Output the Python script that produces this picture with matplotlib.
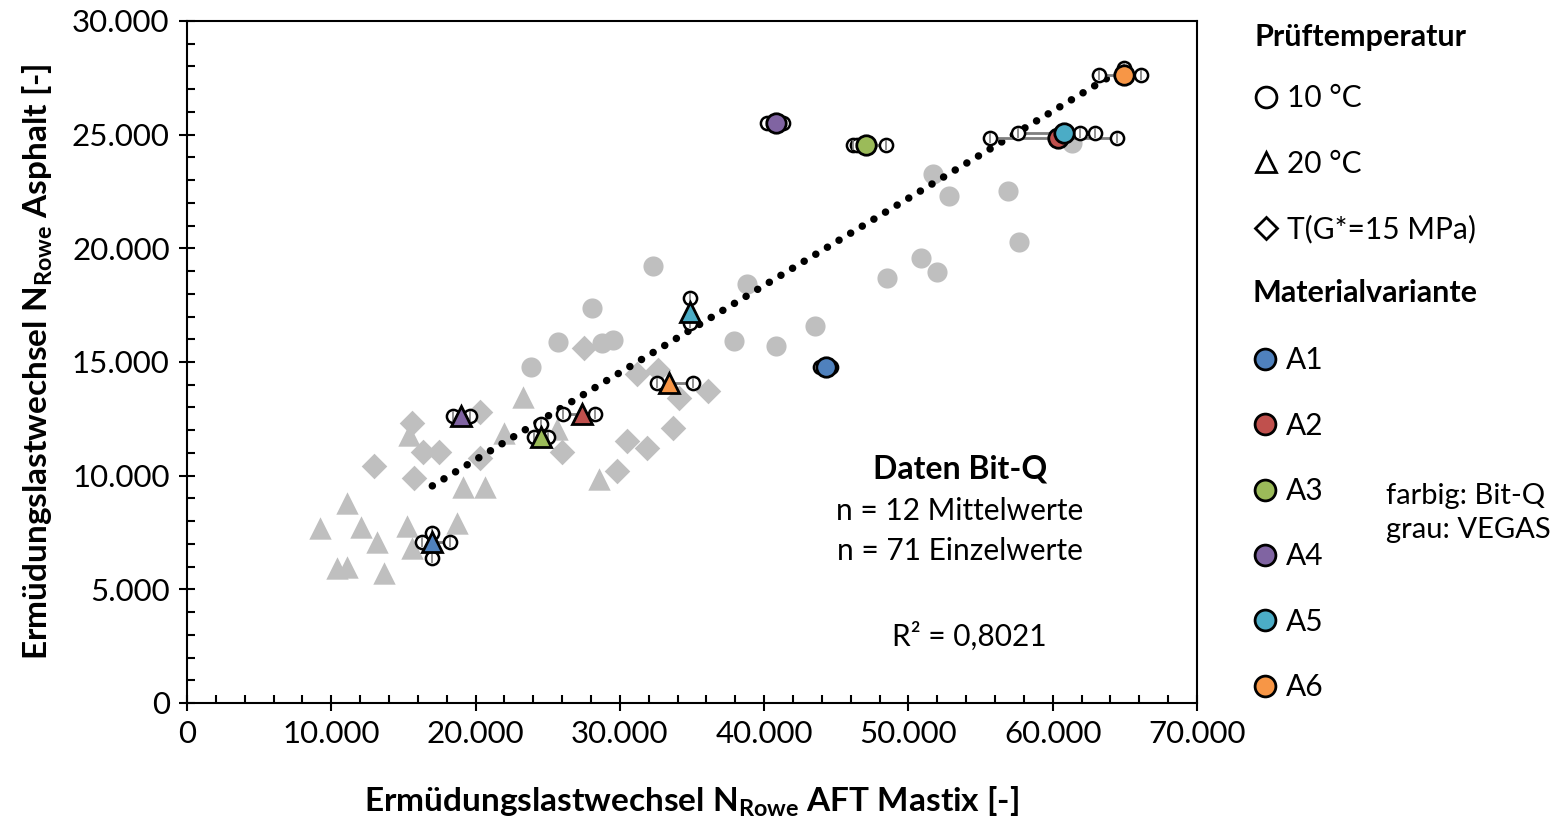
import matplotlib
matplotlib.use('Agg')
import matplotlib.pyplot as plt
from matplotlib.lines import Line2D
from matplotlib.ticker import MultipleLocator, FuncFormatter

plt.rcParams['font.family'] = ['Lato', 'DejaVu Sans']
plt.rcParams['mathtext.fontset'] = 'custom'
plt.rcParams['mathtext.rm'] = 'Lato:bold'
plt.rcParams['mathtext.it'] = 'Lato:bold'

# VEGAS data (grey)
vegas_10_x = [23842, 25714, 28070, 28763, 29525, 32298, 37912, 38813, 40823, 43526,
              48517, 50873, 51982, 51705, 52814, 56903, 57666, 61339]
vegas_10_y = [14781, 15880, 17376, 15836, 15968, 19224, 15924, 18432, 15704, 16584,
              18696, 19576, 18960, 23271, 22303, 22523, 20279, 24634]
vegas_20_x = [9218, 11090, 12060, 13169, 15248, 15595, 18714, 10397, 11090, 13654,
              15387, 19130, 20655, 21972, 23288, 25645, 28556]
vegas_20_y = [7698, 8798, 7742, 7082, 7786, 6818, 7918, 5939, 5983, 5719,
              11789, 9502, 9502, 11877, 13461, 12053, 9854]
vegas_T_x = [15595, 12961, 15733, 16357, 17466, 20308, 20308, 25991, 27516, 31190,
             32645, 34101, 36111, 33685, 30496, 31882, 29803]
vegas_T_y = [12317, 10426, 9898, 11041, 11041, 12801, 10778, 11041, 15616, 14473,
             14649, 13417, 13725, 12097, 11525, 11217, 10206]

# Bit-Q mean values (coloured)
variants = ['A1', 'A2', 'A3', 'A4', 'A5', 'A6']
colors = ['#4F81BD', '#C0504D', '#9BBB59', '#8064A2', '#4BACC6', '#F79646']
bitq_10_x = [44288, 60369, 47062, 40823, 60785, 64944]
bitq_10_y = [14781, 24854, 24546, 25514, 25074, 27625]
bitq_20_x = [16981, 27377, 24535, 18991, 34863, 33408]
bitq_20_y = [7082, 12713, 11701, 12625, 17200, 14077]

# Bit-Q single values: mastix values (at mean y) and asphalt values (at mean x)
ind_10_x = [[43900, 44650], [55656, 64459], [46161, 46438, 48448], [40200, 41300],
            [57597, 61894, 62934], [63213, 66124]]
ind_10_y = [[], [], [], [], [], [27933]]
ind_20_x = [[16288, 18229], [26061, 28279], [24050, 25021], [18437, 19615], [], [32576, 35071]]
ind_20_y = [[7478, 6378], [], [12273], [], [17816, 16716], []]

# trend line end points
trend_x = [17000, 64500]
trend_y = [9550, 27760]

fig = plt.figure(figsize=(15.56, 8.22), dpi=100)
ax = fig.add_axes([0.1202, 0.1448, 0.6491, 0.8297])

grey = '#BFBFBF'
ax.scatter(vegas_10_x, vegas_10_y, s=210, marker='o', color=grey, lw=0, zorder=1)
ax.scatter(vegas_20_x, vegas_20_y, s=260, marker='^', color=grey, lw=0, zorder=1)
ax.scatter(vegas_T_x, vegas_T_y, s=170, marker='D', color=grey, lw=0, zorder=1)

ax.plot(trend_x, trend_y, color='black', lw=5.4, linestyle=(0, (0.01, 1.8)),
        dash_capstyle='round', zorder=2)


def draw_single(mx, my, xs, ys):
    if xs:
        ax.plot([min(xs + [mx]), max(xs + [mx])], [my, my], color='#7F7F7F', lw=2, zorder=3)
    px = xs + [mx] * len(ys)
    py = [my] * len(xs) + ys
    if px:
        ax.plot(px, py, 'o', ms=9.5, mfc='white', mec='black', mew=1.8, ls='none', zorder=4)
        ax.plot(px, py, '|', ms=7, mec='#7F7F7F', mew=1.2, ls='none', zorder=5)


for i in range(len(variants)):
    draw_single(bitq_10_x[i], bitq_10_y[i], ind_10_x[i], ind_10_y[i])
    draw_single(bitq_20_x[i], bitq_20_y[i], ind_20_x[i], ind_20_y[i])

for i in range(len(variants)):
    ax.plot(bitq_10_x[i], bitq_10_y[i], 'o', ms=14, mfc=colors[i], mec='black', mew=2, zorder=6)
    ax.plot(bitq_20_x[i], bitq_20_y[i], '^', ms=14, mfc=colors[i], mec='black', mew=2, zorder=6)

ax.set_xlim(0, 70000)
ax.set_ylim(0, 30000)
ax.xaxis.set_major_locator(MultipleLocator(10000))
ax.xaxis.set_minor_locator(MultipleLocator(2000))
ax.yaxis.set_major_locator(MultipleLocator(5000))
ax.yaxis.set_minor_locator(MultipleLocator(1000))
fmt = FuncFormatter(lambda v, p: f'{int(v):,}'.replace(',', '.'))
ax.xaxis.set_major_formatter(fmt)
ax.yaxis.set_major_formatter(fmt)
ax.tick_params(which='major', direction='inout', length=11, width=1.5, labelsize=22.5, pad=7)
ax.tick_params(which='minor', direction='in', length=6, width=1.5)
for s in ax.spines.values():
    s.set_linewidth(1.5)

ax.set_xlabel(r'Ermüdungslastwechsel N$_{\mathrm{Rowe}}$ AFT Mastix [-]',
              fontsize=24, fontweight='bold', labelpad=26)
ax.set_ylabel(r'Ermüdungslastwechsel N$_{\mathrm{Rowe}}$ Asphalt [-]',
              fontsize=24, fontweight='bold', labelpad=12)

ax.text(0.765, 0.343, 'Daten Bit-Q', transform=ax.transAxes, ha='center', va='center',
        fontsize=23, fontweight='bold')
ax.text(0.765, 0.2815, 'n = 12 Mittelwerte', transform=ax.transAxes, ha='center', va='center',
        fontsize=21.5)
ax.text(0.765, 0.223, 'n = 71 Einzelwerte', transform=ax.transAxes, ha='center', va='center',
        fontsize=21.5)
ax.text(0.775, 0.098, 'R² = 0,8021', transform=ax.transAxes, ha='center', va='center',
        fontsize=21.5)

# legends
temp_handles = [
    Line2D([], [], marker='o', ls='none', ms=15, mfc='white', mec='black', mew=2),
    Line2D([], [], marker='^', ls='none', ms=15, mfc='white', mec='black', mew=2),
    Line2D([], [], marker='D', ls='none', ms=11, mfc='white', mec='black', mew=2),
]
leg_kw = dict(loc='upper left', frameon=False, fontsize=21.5, alignment='left',
              title_fontproperties={'weight': 'bold', 'size': 22},
              labelspacing=1.25, handlelength=0.8, handletextpad=0.3, borderaxespad=0,
              borderpad=0)
leg1 = fig.legend(temp_handles, ['10 °C', '20 °C', 'T(G*=15 MPa)'],
                  bbox_to_anchor=(0.806, 0.972), title='Prüftemperatur', **leg_kw)
leg1._legend_box.sep = 24
var_handles = [Line2D([], [], marker='o', ls='none', ms=15, mfc=c, mec='black', mew=2)
               for c in colors]
leg2 = fig.legend(var_handles, variants,
                  bbox_to_anchor=(0.805, 0.660), title='Materialvariante', **leg_kw)
leg2._legend_box.sep = 28

fig.text(0.8905, 0.376, 'farbig: Bit-Q\ngrau: VEGAS', fontsize=21, va='center', ha='left',
         linespacing=1.35)

fig.savefig('out.png', dpi=100)
